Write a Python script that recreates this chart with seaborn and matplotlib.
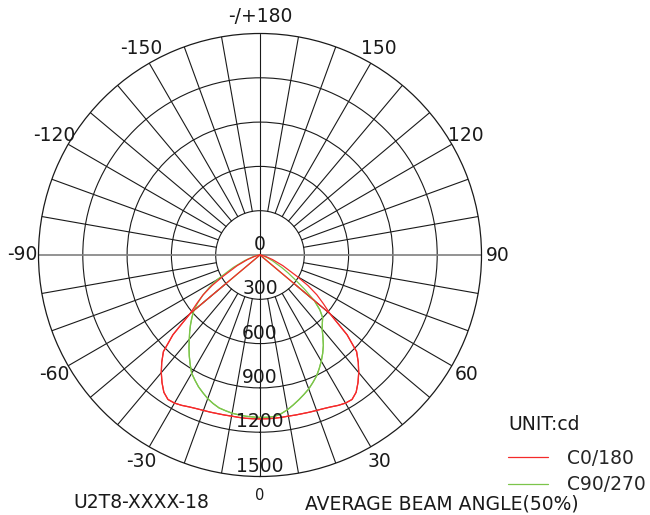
import numpy as np
import matplotlib
matplotlib.use("Agg")
import matplotlib.pyplot as plt
import seaborn as sns

# ---------------- data ----------------
gamma = [0, 2.5, 5, 7.5, 10, 12.5, 15, 17.5, 20, 22.5, 25, 27.5, 30, 32.5,
         35, 37.5, 40, 42.5, 45, 47.5, 50, 52.5, 55, 57.5, 60,
         65, 70, 75, 80, 85, 90]

red_c0_180 = [1110, 1110, 1110, 1109, 1108, 1110, 1112, 1116, 1120, 1126,
              1135, 1148, 1158, 1160, 1135, 1090, 1040, 985, 925, 800,
              620, 540, 470, 385, 290,
              170, 90, 40, 15, 5, 0]

green_c90 = [1100, 1100, 1098, 1085, 1065, 1040, 1015, 990, 965, 935,
             905, 868, 830, 790, 748, 700, 655, 625, 600, 550,
             480, 380, 290, 225, 170,
             95, 50, 25, 10, 3, 0]
green_c270 = [1100, 1098, 1096, 1092, 1088, 1080, 1072, 1055, 1035, 1010,
              985, 955, 925, 880, 835, 790, 745, 705, 665, 625,
              585, 530, 470, 405, 340,
              200, 110, 55, 25, 8, 0]

# the second plane of each pair runs straight into the centre after 50 deg
tail_gamma = 51
tail_value = 0

r_ticks = [0, 300, 600, 900, 1200, 1500]
angle_ticks = [0, 30, 60, 90, 120, 150, 180, -150, -120, -90, -60, -30]
angle_labels = ["0", "30", "60", "90", "120", "150", "-/+180",
                "-150", "-120", "-90", "-60", "-30"]
series_names = ["C0/180", "C90/270"]
unit_text = "UNIT:cd"
model_text = "U2T8-XXXX-18"
beam_text = "AVERAGE BEAM ANGLE(50%)"

RED = "#f42a2a"
GREEN = "#7cc54a"
INK = "#1a1a1a"
FS = 13.5


def full_curve(g, right, left):
    th = [-x for x in reversed(g)] + list(g[1:])
    rv = list(reversed(left)) + list(right[1:])
    return np.deg2rad(th), np.array(rv, dtype=float)


def short(g, vals):
    n = g.index(50) + 1
    return list(g[:n]) + [tail_gamma], list(vals[:n]) + [tail_value]


sns.set_style("white")
plt.rcParams["font.family"] = ["DejaVu Sans"]

W, H = 650, 515
fig = plt.figure(figsize=(W / 100, H / 100), dpi=100)
cx, cy, R = 260, 255, 221.5
ax = fig.add_axes([(cx - R) / W, (H - cy - R) / H, 2 * R / W, 2 * R / H],
                  projection="polar")
ax.set_theta_zero_location("S")
ax.set_theta_direction(1)
ax.set_ylim(0, 1500)
ax.set_rgrids([300, 600, 900, 1200], labels=[""] * 4)
ax.set_thetagrids([], [])
ax.xaxis.grid(False)
ax.yaxis.grid(True, color=INK, lw=0.8)
ax.spines["polar"].set_color(INK)
ax.spines["polar"].set_linewidth(0.9)
ax.set_facecolor("white")

# spokes every 10 degrees
for a in range(0, 360, 10):
    t = np.deg2rad(a)
    if a in (90, 270):
        ax.plot([t, t], [0, 1500], color="#808080", lw=1.2, zorder=1)
    elif a in (0, 180):
        ax.plot([t, t], [0, 1500], color=INK, lw=0.8, zorder=1)
    else:
        ax.plot([t, t], [300, 1500], color=INK, lw=0.8, zorder=1)

# curves
th, rv = full_curve(gamma, red_c0_180, red_c0_180)
sns.lineplot(x=th, y=rv, ax=ax, sort=False, estimator=None, color=RED,
             lw=0.9, label=series_names[0], zorder=3)
gs, rs = short(gamma, red_c0_180)
th, rv = full_curve(gs, rs, rs)
sns.lineplot(x=th, y=rv, ax=ax, sort=False, estimator=None, color=RED,
             lw=0.9, zorder=3)
th, rv = full_curve(gamma, green_c90, green_c270)
sns.lineplot(x=th, y=rv, ax=ax, sort=False, estimator=None, color=GREEN,
             lw=0.9, label=series_names[1], zorder=2)
gs, gr = short(gamma, green_c90)
_, gl = short(gamma, green_c270)
th, rv = full_curve(gs, gr, gl)
sns.lineplot(x=th, y=rv, ax=ax, sort=False, estimator=None, color=GREEN,
             lw=0.9, zorder=2)
ax.set_xlabel("")
ax.set_ylabel("")
ax.set_ylim(0, 1500)

# radial value labels
for v in r_ticks:
    ax.annotate(str(v), xy=(0, v), xytext=(0, 7.5), textcoords="offset points",
                ha="center", va="center", fontsize=FS, color=INK, zorder=4)

# angle labels
for a, lab in zip(angle_ticks, angle_labels):
    fs = 10.5 if a == 0 else FS
    rr = 1632 if a == 0 else 1612
    ax.text(np.deg2rad(a), rr, lab, ha="center", va="center", fontsize=fs,
            color=INK, clip_on=False)

# legend
handles, labels = ax.get_legend_handles_labels()
ax.legend(handles, labels, loc="upper left",
          bbox_to_anchor=(508 / W, 1 - 449 / H), bbox_transform=fig.transFigure,
          frameon=False, fontsize=FS, handlelength=2.15, handletextpad=1.0,
          labelspacing=0.4, borderpad=0, borderaxespad=0)
fig.text(508 / W, 1 - 425 / H, unit_text, ha="left", va="center", fontsize=FS,
         color=INK)
fig.text(141 / W, 1 - 503 / H, model_text, ha="center", va="center",
         fontsize=FS, color=INK)
fig.text(441.5 / W, 1 - 504 / H, beam_text, ha="center", va="center",
         fontsize=FS, color=INK)

fig.savefig("out.png", dpi=100)
